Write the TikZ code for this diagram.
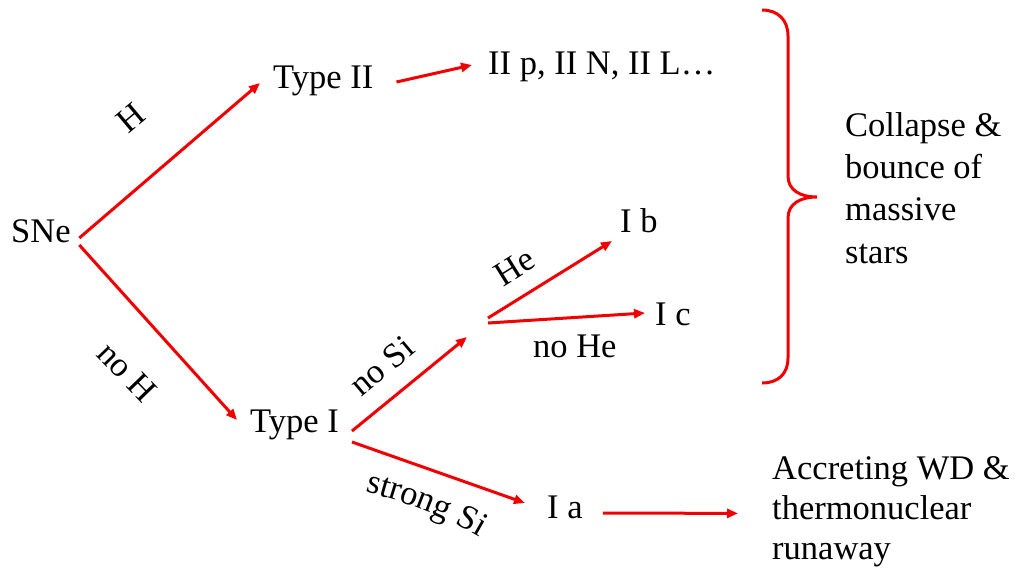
\documentclass[tikz,border=0pt]{standalone}
\usepackage{fontspec}
\setmainfont{Liberation Serif}
\usetikzlibrary{arrows.meta,decorations.text}
\definecolor{arrred}{RGB}{240,0,0}
\begin{document}
\begin{tikzpicture}[x=1pt,y=-1pt,
  lbl/.style={inner sep=0pt, font=\fontsize{34.5}{41}\selectfont},
  txt/.style={inner sep=0pt, anchor=base west, font=\fontsize{34.5}{41}\selectfont},
  arrow/.style={draw=arrred, line width=3pt, -{Triangle[length=11pt,width=9pt]}},
  bracestyle/.style={draw=arrred, line width=3pt},
]
\useasboundingbox (0,0) rectangle (1019,571);
% nodes
\node[txt] (sne) at (11,242) {SNe};
\node[txt] (t2) at (273,88) {Type II};
\node[txt] (t2sub) at (488,74) {II p, II N, II L…};
\node[txt] (t1) at (250,432) {Type I};
\node[txt] (ib) at (620,232) {I b};
\node[txt] (ic) at (655,325) {I c};
\node[txt] (ia) at (547,518) {I a};
\node[inner sep=0pt, anchor=north west, align=left, font=\fontsize{34.5}{42.3}\selectfont] (coll) at (845,112) {Collapse \&\\bounce of\\massive\\stars};
\node[inner sep=0pt, anchor=north west, align=left, font=\fontsize{34.5}{40}\selectfont] (acc) at (772,456) {Accreting WD \&\\thermonuclear\\runaway};
% labels
\node[lbl, rotate=40] (lH) at (131,118) {H};
\node[lbl, rotate=-46] (lnoH) at (127,372) {no H};
\node[lbl, rotate=40] (lnoSi) at (382,366) {no Si};
\node[lbl, rotate=32] (lHe) at (515,267) {He};
\node[txt] (lnoHe) at (533,357) {no He};
\path[decorate, decoration={text along path, text align=center,
  text={|\fontsize{34.5}{41}\selectfont|strong Si}}]
  (358,490) .. controls (395,499) and (440,513) .. (486,541);
% coordinates
\coordinate (siend) at (467,337);
\coordinate (fork) at (488,320.5);
% connectors
\draw[arrow] ([xshift=8.5pt,yshift=4pt]sne.base east) -- ([xshift=-13pt,yshift=5pt]t2.base west);
\draw[arrow] ([xshift=8.5pt,yshift=-3pt]sne.base east) -- ([xshift=-13pt,yshift=12pt]t1.base west);
\draw[arrow] ([xshift=23pt,yshift=6pt]t2.base east) -- ([xshift=-16pt,yshift=9pt]t2sub.base west);
\draw[arrow] ([xshift=13pt,yshift=1pt]t1.base east) -- (siend);
\draw[arrow] ([yshift=2.5pt]fork) -- ([xshift=-8pt,yshift=-9pt]ib.base west);
\draw[arrow] ([yshift=-2.5pt]fork) -- ([xshift=-10pt,yshift=12pt]ic.base west);
\draw[arrow] ([xshift=13pt,yshift=-10pt]t1.base east) -- ([xshift=-22pt,yshift=15pt]ia.base west);
\draw[arrow] ([xshift=20pt,yshift=5pt]ia.base east) -- ([xshift=-34pt,yshift=-2pt]acc.west);
% brace
\draw[bracestyle] (762,10) .. controls (778,10) and (788,20) .. (788,36) -- (788,176)
  .. controls (788,190) and (800,197) .. (817,197)
  .. controls (800,197) and (788,204) .. (788,218) -- (788,358)
  .. controls (788,374) and (778,383) .. (762,383);
\end{tikzpicture}
\end{document}
